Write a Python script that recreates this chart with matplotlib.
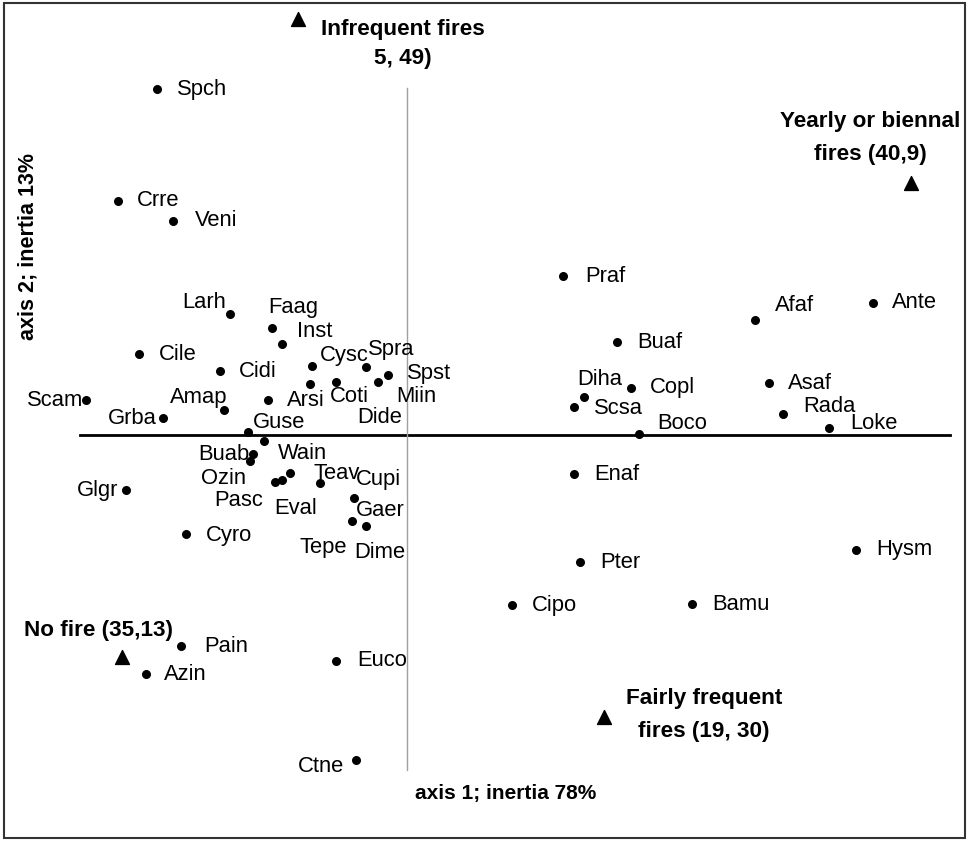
import matplotlib.pyplot as plt
from matplotlib.patches import Rectangle

plt.rcParams['font.family'] = ['Liberation Sans', 'DejaVu Sans']

# species scores on the first two axes
species = ["Spch", "Crre", "Veni", "Larh", "Faag", "Inst", "Cile", "Cidi", "Cysc", "Spra",
           "Spst", "Miin", "Coti", "Dide", "Arsi", "Scam", "Amap", "Grba", "Guse", "Wain",
           "Buab", "Ozin", "Pasc", "Eval", "Teav", "Cupi", "Gaer", "Tepe", "Dime", "Glgr",
           "Cyro", "Praf", "Afaf", "Ante", "Buaf", "Asaf", "Copl", "Diha", "Scsa", "Rada",
           "Loke", "Boco", "Enaf", "Pter", "Cipo", "Bamu", "Hysm", "Euco", "Pain", "Azin",
           "Ctne"]
axis1 = [-2.50, -2.89, -2.34, -1.77, -1.35, -1.25, -2.68, -1.87, -0.95, -0.41,
         -0.19, -0.29, -0.71, -0.97, -1.39, -3.21, -1.83, -2.44, -1.59, -1.43,
         -1.54, -1.57, -1.32, -1.25, -1.17, -0.87, -0.53, -0.55, -0.41, -2.81,
         -2.21, 1.56, 3.48, 4.66, 2.10, 3.62, 2.24, 1.77, 1.67, 3.76,
         4.22, 2.32, 1.67, 1.73, 1.05, 2.85, 4.49, -0.71, -2.26, -2.61,
         -0.51]
axis2 = [3.46, 2.34, 2.14, 1.21, 1.07, 0.91, 0.81, 0.64, 0.69, 0.68,
         0.60, 0.53, 0.53, 0.51, 0.35, 0.35, 0.25, 0.17, 0.03, -0.06,
         -0.19, -0.26, -0.47, -0.45, -0.38, -0.48, -0.63, -0.86, -0.91, -0.55,
         -0.99, 1.59, 1.15, 1.32, 0.93, 0.52, 0.47, 0.38, 0.28, 0.21,
         0.07, 0.01, -0.39, -1.27, -1.70, -1.69, -1.15, -2.26, -2.11, -2.39,
         -3.25]

# fire regime classes (supplementary)
fire_labels = ["Infrequent fires\n5, 49)", "Yearly or biennal\nfires (40,9)",
               "No fire (35,13)", "Fairly frequent\nfires (19, 30)"]
fire_axis1 = [-1.09, 5.04, -2.85, 1.97]
fire_axis2 = [4.16, 2.52, -2.22, -2.82]

# label placement (pixel offsets, alignment)
right_side = {"Larh", "Scam", "Amap", "Grba", "Buab", "Ozin", "Pasc", "Tepe", "Glgr", "Ctne"}
offsets = {
    "Spch": (20, -1), "Crre": (19, 0), "Veni": (22, 0), "Larh": (-4, 12), "Faag": (-4, 20),
    "Inst": (15, 13), "Cile": (20, 0), "Cidi": (19, 0), "Cysc": (8, 11), "Spra": (2, 18),
    "Spst": (19, 2), "Miin": (18, -14), "Coti": (-6, -14), "Dide": (47, -33), "Arsi": (19, 0),
    "Scam": (-3, 0), "Amap": (3, 13), "Grba": (-6, 0), "Guse": (5, 10), "Wain": (14, -12),
    "Buab": (-4, 0), "Ozin": (-4, -17), "Pasc": (-12, -18), "Eval": (-8, -28), "Teav": (23, 0),
    "Cupi": (36, 4), "Gaer": (2, -12), "Tepe": (-5, -27), "Dime": (-12, -27), "Glgr": (-8, 0),
    "Cyro": (20, -1), "Praf": (22, 0), "Afaf": (20, 15), "Ante": (19, 0), "Buaf": (20, 0),
    "Asaf": (19, 0), "Copl": (19, 1), "Diha": (-7, 18), "Scsa": (20, -1), "Rada": (20, 8),
    "Loke": (21, 5), "Boco": (18, 11), "Enaf": (20, 0), "Pter": (20, 0), "Cipo": (20, 0),
    "Bamu": (20, 0), "Hysm": (20, 0), "Euco": (21, 0), "Pain": (23, 0), "Azin": (18, 0),
    "Ctne": (-12, -7),
}
fire_offsets = [(105, -25), (-41, 45), (-24, 27), (100, 2)]
fire_spacing = [1.45, 1.8, 1.2, 1.75]

fig = plt.figure(figsize=(9.7, 8.41), dpi=100)
ax = fig.add_axes([0, 0, 1, 1])
ax.set_xlim(-4.07, 5.63)
ax.set_ylim(-4.06, 4.35)
ax.axis('off')

# axes of the ordination
ax.plot([-3.27, 5.43], [0, 0], color='black', lw=2, zorder=1)
ax.plot([0, 0], [-3.35, 3.47], color='#a0a0a0', lw=1, zorder=1)

ax.scatter(axis1, axis2, s=30, color='black', zorder=3)
for name, x, y in zip(species, axis1, axis2):
    dx, dy = offsets[name]
    ax.annotate(name, (x, y), xytext=(dx, dy), textcoords='offset pixels',
                ha='right' if name in right_side else 'left', va='center',
                fontsize=15.8)

ax.scatter(fire_axis1, fire_axis2, s=100, marker='^', color='black', zorder=3)
for lab, x, y, (dx, dy), ls in zip(fire_labels, fire_axis1, fire_axis2, fire_offsets, fire_spacing):
    ax.annotate(lab, (x, y), xytext=(dx, dy), textcoords='offset pixels',
                ha='center', va='center', multialignment='center',
                fontsize=16.2, fontweight='bold', linespacing=ls)

fig.text(506 / 970, 1 - 793 / 841, "axis 1; inertia 78%", ha='center', va='center',
         fontsize=15, fontweight='bold')
fig.text(28 / 970, 1 - 246 / 841, "axis 2; inertia 13%", ha='center', va='center',
         rotation=90, fontsize=15.5, fontweight='bold')

fig.patches.append(Rectangle((4 / 970, 3 / 841), 961 / 970, 835 / 841, transform=fig.transFigure,
                             fill=False, edgecolor='#333333', lw=1.5))

fig.savefig("out.png", dpi=100)
